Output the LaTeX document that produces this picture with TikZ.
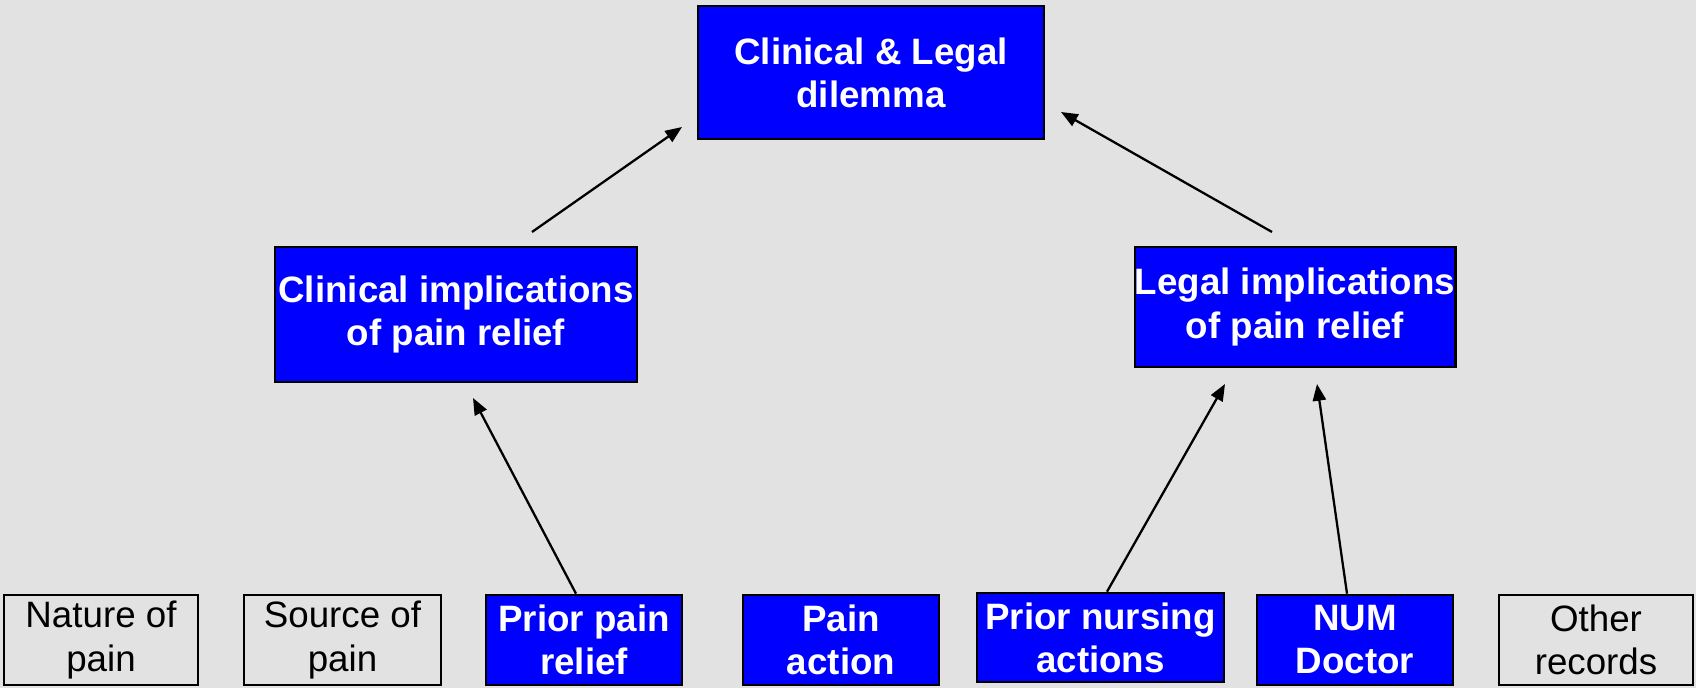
\documentclass[tikz,border=0pt]{standalone}
\usepackage{fontspec}
\setmainfont{Liberation Sans}
\usetikzlibrary{arrows.meta}
\definecolor{marble}{RGB}{226,226,226}
\definecolor{boxblue}{RGB}{0,0,255}

\begin{document}
\begin{tikzpicture}[x=0.02cm, y=-0.02cm,
  bluebox/.style={draw, fill=boxblue, text=white, line width=1.5pt, inner sep=0pt, align=center, font=\fontsize{20.9}{24.5}\selectfont\bfseries},
  plainbox/.style={draw, line width=1.5pt, inner sep=0pt, align=center, font=\fontsize{20.9}{24.5}\selectfont},
  arr/.style={draw, line width=1.3pt, -{Triangle[length=9.5pt,width=7.5pt]}}]
\fill[marble] (0,0) rectangle (1696,688);

\node[bluebox, minimum width=6.92cm, minimum height=2.66cm] (dilemma) at (871,72.5) {Clinical \& Legal\\dilemma};
\node[bluebox, minimum width=7.24cm, minimum height=2.70cm] (clinimp) at (456,314.5) {Clinical implications\\of pain relief};
\node[bluebox, minimum width=6.32cm, minimum height=2.40cm] (legimp) at (1295,307) {Legal implications\\of pain relief};

\node[plainbox, minimum width=3.88cm, minimum height=1.80cm] (nature) at (101,640) {Nature of\\pain};
\node[plainbox, minimum width=3.94cm, minimum height=1.80cm] (source) at (342.5,640) {Source of\\pain};
\node[bluebox, minimum width=3.92cm, minimum height=1.80cm] (priorrelief) at (584,640) {Prior pain\\relief};
\node[bluebox, minimum width=3.92cm, minimum height=1.80cm] (painact) at (841,640) {Pain\\action};
\node[bluebox, minimum width=4.94cm, minimum height=1.78cm] (priornurs) at (1100.5,637.5) {Prior nursing\\actions};
\node[bluebox, minimum width=3.92cm, minimum height=1.80cm] (numdoc) at (1355,640) {NUM\\Doctor};
\node[plainbox, minimum width=3.88cm, minimum height=1.80cm] (other) at (1596,640) {Other\\records};

% free arrow ends
\coordinate (c1) at (532,232);
\coordinate (d1) at (682,127);
\coordinate (c2) at (1272,232);
\coordinate (d2) at (1061,112);
\coordinate (t3) at (473,398);
\coordinate (t4) at (1225,384);
\coordinate (t5) at (1317,384);

\path[arr] (c1) -- (d1);
\path[arr] (c2) -- (d2);
\path[arr] ([xshift=-0.16cm]priorrelief.north) -- (t3);
\path[arr] ([xshift=0.13cm]priornurs.north) -- (t4);
\path[arr] ([xshift=-0.16cm]numdoc.north) -- (t5);
\end{tikzpicture}
\end{document}
